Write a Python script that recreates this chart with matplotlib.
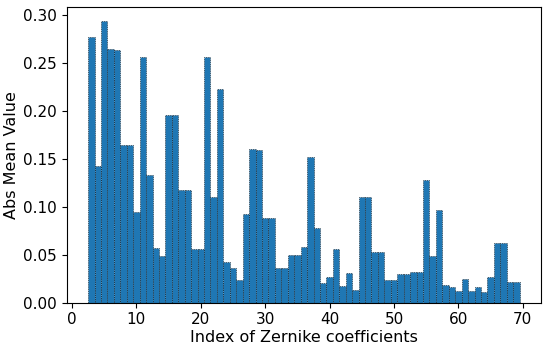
import numpy as np
import matplotlib
matplotlib.use('Agg')
import matplotlib.pyplot as plt

# Zernike coefficient indices and their absolute mean values
indices = list(range(3, 70))
abs_mean = [
    0.277, 0.142, 0.293, 0.264, 0.263, 0.164, 0.164, 0.094, 0.256, 0.133,
    0.057, 0.049, 0.195, 0.196, 0.117, 0.117, 0.056, 0.056, 0.256, 0.110,
    0.223, 0.042, 0.036, 0.024, 0.092, 0.160, 0.159, 0.088, 0.088, 0.036,
    0.036, 0.050, 0.050, 0.058, 0.152, 0.078, 0.021, 0.027, 0.056, 0.017,
    0.031, 0.013, 0.110, 0.110, 0.053, 0.053, 0.024, 0.024, 0.030, 0.030,
    0.032, 0.032, 0.128, 0.049, 0.097, 0.018, 0.016, 0.012, 0.025, 0.012,
    0.016, 0.011, 0.027, 0.062, 0.062, 0.022, 0.022,
]

fig, ax = plt.subplots(figsize=(5.5, 3.46), dpi=100)
ax.bar(indices, abs_mean, width=1.0, color='#1f77b4', edgecolor='black',
       linewidth=0.5, linestyle=':')
ax.set_xlabel('Index of Zernike coefficients', fontsize=11.5, labelpad=2)
ax.set_ylabel('Abs Mean Value', fontsize=11.5, labelpad=2.5)
ax.tick_params(labelsize=11)
ax.set_xticks([0, 10, 20, 30, 40, 50, 60, 70])

plt.subplots_adjust(left=0.121, right=0.984, bottom=0.125, top=0.979)
plt.savefig('out.png')
